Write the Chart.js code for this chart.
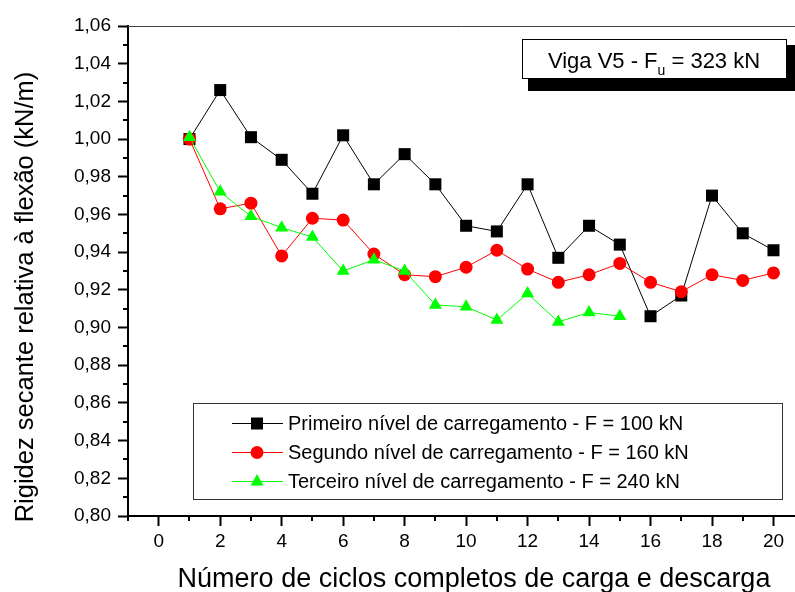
<!DOCTYPE html>
<html>
<head>
<meta charset="utf-8">
<script src="https://cdn.jsdelivr.net/npm/chart.js@4/dist/chart.umd.min.js"></script>
<style>
  html, body { margin: 0; padding: 0; background: #fff; overflow: hidden; }
  #wrap { width: 795px; height: 592px; }
</style>
</head>
<body>
<div id="wrap"><canvas id="grafico" width="795" height="592"></canvas></div>
<script>
// Données
const ciclos = [1, 2, 3, 4, 5, 6, 7, 8, 9, 10, 11, 12, 13, 14, 15, 16, 17, 18, 19, 20];
const primeiroNivel = [1.000, 1.026, 1.001, 0.989, 0.971, 1.002, 0.976, 0.992, 0.976, 0.954,
                       0.951, 0.976, 0.937, 0.954, 0.944, 0.906, 0.917, 0.970, 0.950, 0.941];
const segundoNivel = [1.000, 0.963, 0.966, 0.938, 0.958, 0.957, 0.939, 0.928, 0.927, 0.932,
                      0.941, 0.931, 0.924, 0.928, 0.934, 0.924, 0.919, 0.928, 0.925, 0.929];
const terceiroNivel = [1.001, 0.972, 0.959, 0.953, 0.948, 0.930, 0.936, 0.930, 0.912, 0.911,
                       0.904, 0.918, 0.903, 0.908, 0.906];
const legendas = [
    "Primeiro nível de carregamento - F = 100 kN",
    "Segundo nível de carregamento - F = 160 kN",
    "Terceiro nível de carregamento - F = 240 kN"
];
const tituloX = "Número de ciclos completos de carga e descarga";
const tituloY = "Rigidez secante relativa à flexão (kN/m)";

const FONTE = "'Liberation Sans', Arial, sans-serif";

const pontos = (valores) => valores.map((v, i) => ({ x: ciclos[i], y: v }));

// Petits traits secondaires + cadre du haut
const ticksSecundarios = {
    id: "ticksSecundarios",
    afterDraw(chart) {
        const { ctx, chartArea, scales } = chart;
        ctx.save();
        ctx.strokeStyle = "#000";
        ctx.lineWidth = 2;
        ctx.beginPath();
        for (let v = -1; v <= 20.7; v += 2) {
            const px = Math.round(scales.x.getPixelForValue(v));
            ctx.moveTo(px, chartArea.bottom);
            ctx.lineTo(px, chartArea.bottom + 5);
        }
        for (let k = 0; k < 13; k++) {
            const v = 0.81 + k * 0.02;
            const py = Math.round(scales.y.getPixelForValue(v));
            ctx.moveTo(chartArea.left, py);
            ctx.lineTo(chartArea.left - 5, py);
        }
        ctx.stroke();

        // ligne du haut
        ctx.strokeStyle = "#444";
        ctx.lineWidth = 1;
        ctx.beginPath();
        ctx.moveTo(chartArea.left, chartArea.top + 0.5);
        ctx.lineTo(chartArea.right, chartArea.top + 0.5);
        ctx.stroke();
        ctx.restore();
    }
};

function desenharMarcador(ctx, estilo, x, y, cor) {
    ctx.fillStyle = cor;
    ctx.beginPath();
    if (estilo === "rect") {
        ctx.rect(x - 6, y - 6, 12, 12);
    } else if (estilo === "circle") {
        ctx.arc(x, y, 6.5, 0, Math.PI * 2);
    } else {
        ctx.moveTo(x, y - 7.5);
        ctx.lineTo(x + 6.5, y + 4);
        ctx.lineTo(x - 6.5, y + 4);
        ctx.closePath();
    }
    ctx.fill();
}

// Légende, titres et cadre "Viga V5"
const decoracao = {
    id: "decoracao",
    afterDraw(chart) {
        const { ctx } = chart;
        ctx.save();

        // Légende
        ctx.fillStyle = "#fff";
        ctx.fillRect(193, 403, 590, 97);
        ctx.strokeStyle = "#333";
        ctx.lineWidth = 1;
        ctx.strokeRect(193.5, 403.5, 589, 96);
        const linhas = [423, 452, 481];
        chart.data.datasets.forEach((ds, i) => {
            const y = linhas[i];
            ctx.strokeStyle = ds.borderColor;
            ctx.lineWidth = 1;
            ctx.beginPath();
            ctx.moveTo(232, y + 0.5);
            ctx.lineTo(283, y + 0.5);
            ctx.stroke();
            desenharMarcador(ctx, ds.pointStyle, 257, y + 0.5, ds.backgroundColor);
            ctx.fillStyle = "#000";
            ctx.font = "20px " + FONTE;
            ctx.textBaseline = "middle";
            ctx.textAlign = "left";
            ctx.fillText(legendas[i], 288, y + 1);
        });

        // Cadre Viga V5
        ctx.fillStyle = "#000";
        ctx.fillRect(528, 45, 272, 46);
        ctx.fillStyle = "#fff";
        ctx.fillRect(522, 39, 265, 40);
        ctx.strokeStyle = "#000";
        ctx.strokeRect(522.5, 39.5, 264, 39);
        ctx.fillStyle = "#000";
        ctx.textBaseline = "alphabetic";
        const t1 = "Viga V5 - F";
        const t2 = "u";
        const t3 = " = 323 kN";
        ctx.font = "14px " + FONTE;
        const w2 = ctx.measureText(t2).width;
        ctx.font = "22px " + FONTE;
        const w1 = ctx.measureText(t1).width;
        const w3 = ctx.measureText(t3).width;
        let x0 = 654 - (w1 + w2 + w3) / 2;
        ctx.fillText(t1, x0, 68);
        ctx.font = "14px " + FONTE;
        ctx.fillText(t2, x0 + w1, 75);
        ctx.font = "22px " + FONTE;
        ctx.fillText(t3, x0 + w1 + w2, 68);

        // Titres des axes
        ctx.font = "27px " + FONTE;
        ctx.textAlign = "center";
        ctx.fillText(tituloX, 474, 587);
        ctx.translate(33, 297);
        ctx.rotate(-Math.PI / 2);
        ctx.font = "25.5px " + FONTE;
        ctx.fillText(tituloY, 0, 0);
        ctx.restore();
    }
};

const ctx = document.getElementById("grafico").getContext("2d");

new Chart(ctx, {
    type: "line",
    data: {
        datasets: [
            {
                label: legendas[0],
                data: pontos(primeiroNivel),
                borderColor: "#000000",
                backgroundColor: "#000000",
                borderWidth: 1,
                pointStyle: "rect",
                pointRadius: 8.5,
                pointBorderWidth: 0,
                order: 3
            },
            {
                label: legendas[1],
                data: pontos(segundoNivel),
                borderColor: "#ff0000",
                backgroundColor: "#ff0000",
                borderWidth: 1,
                pointStyle: "circle",
                pointRadius: 6.5,
                pointBorderWidth: 0,
                order: 2
            },
            {
                label: legendas[2],
                data: pontos(terceiroNivel),
                borderColor: "#00ff00",
                backgroundColor: "#00ff00",
                borderWidth: 1,
                pointStyle: "triangle",
                pointRadius: 7.5,
                pointBorderWidth: 0,
                order: 1
            }
        ]
    },
    options: {
        responsive: false,
        animation: false,
        events: [],
        layout: { autoPadding: false, padding: { top: 26, right: 0, left: 0, bottom: 0 } },
        plugins: {
            legend: { display: false },
            tooltip: { enabled: false }
        },
        elements: { line: { tension: 0 } },
        scales: {
            x: {
                type: "linear",
                min: -1,
                max: 20.7,
                afterFit: (s) => { s.height = 76; s.paddingRight = 0; },
                afterBuildTicks: (s) => {
                    s.ticks = [];
                    for (let v = 0; v <= 20; v += 2) s.ticks.push({ value: v });
                },
                border: { display: true, color: "#000", width: 2 },
                grid: { drawOnChartArea: false, drawTicks: true, tickLength: 10, tickWidth: 2, tickColor: "#000" },
                ticks: {
                    color: "#000",
                    font: { family: FONTE, size: 19 },
                    padding: 4,
                    maxRotation: 0,
                    autoSkip: false
                }
            },
            y: {
                min: 0.80,
                max: 1.06,
                afterFit: (s) => { s.width = 128; },
                afterBuildTicks: (s) => {
                    s.ticks = [];
                    for (let k = 0; k <= 13; k++) s.ticks.push({ value: Math.round((0.80 + k * 0.02) * 100) / 100 });
                },
                border: { display: true, color: "#000", width: 2 },
                grid: { drawOnChartArea: false, drawTicks: true, tickLength: 10, tickWidth: 2, tickColor: "#000" },
                ticks: {
                    color: "#000",
                    font: { family: FONTE, size: 19 },
                    padding: 7,
                    callback: (v) => v.toFixed(2).replace(".", ",")
                }
            }
        }
    },
    plugins: [ticksSecundarios, decoracao]
});
</script>
</body>
</html>
